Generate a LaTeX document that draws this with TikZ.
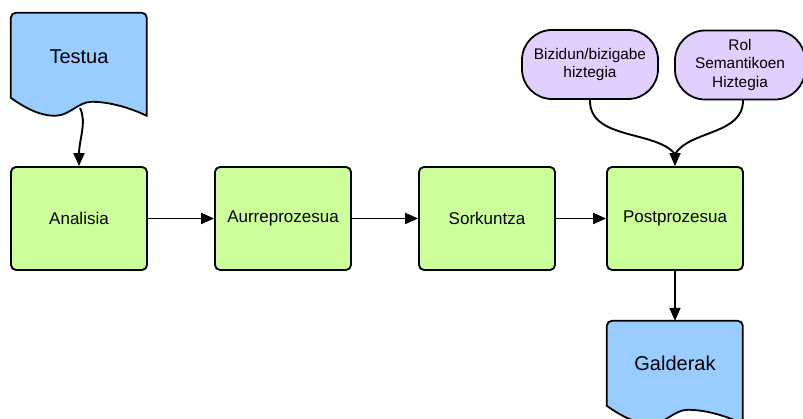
\documentclass[tikz,border=0pt]{standalone}
\usepackage{fontspec}
\setmainfont{Liberation Sans}
\usetikzlibrary{arrows.meta,calc}
\definecolor{docblue}{HTML}{99CCFF}
\definecolor{procgreen}{HTML}{CCFF99}
\definecolor{lexpurple}{HTML}{E1CFFF}
\tikzset{
  outline/.style={draw=black,line width=1.8pt},
  procbox/.style={outline,fill=procgreen,rounded corners=5pt,minimum width=136pt,minimum height=103pt,
    inner sep=0pt,font=\fontsize{17}{20}\selectfont},
  lexbox/.style={outline,fill=lexpurple,rounded corners=30pt,minimum height=69pt,inner sep=0pt,
    align=center,font=\fontsize{15.4}{18.3}\selectfont},
  doclabel/.style={inner sep=0pt,font=\fontsize{20}{24}\selectfont},
  docframe/.style={minimum width=136pt,minimum height=104pt,inner sep=0pt},
  wire/.style={line width=1.9pt},
  flow/.style={wire,-{Triangle[length=13pt,width=11pt]}},
}
% document shape: flat top with rounded corners, wavy bottom edge
\newcommand{\docoutline}[2]{%
  \begin{scope}[shift={(#1.north west)}]
    \draw[outline,fill=#2]
      (0,85) -- (0,5) [rounded corners=5pt] -- (0,0) -- (136,0) [sharp corners] -- (136,103)
      .. controls (119,95) and (99,89) .. (81,89)
      .. controls (67,89) and (59,103) .. (44,103)
      .. controls (29,103) and (14,95) .. (0,85) -- cycle;
  \end{scope}}
\begin{document}
\begin{tikzpicture}[x=1pt,y=-1pt]
  \useasboundingbox (0,0) rectangle (803,419);
  \clip (0,0) rectangle (803,419);

  % source document
  \node[docframe] (testua) at (79,65) {};
  \docoutline{testua}{docblue}
  \node[doclabel] (testuatxt) at (79,57) {Testua};
  \coordinate (testuaout) at (80,108);

  % processing chain
  \node[procbox] (analisia) at (79,218.5) {Analisia};
  \node[procbox] (aurre) at (283,218.5) {Aurreprozesua};
  \node[procbox] (sorkuntza) at (487,218.5) {Sorkuntza};
  \node[procbox] (post) at (675,218.5) {Postprozesua};

  % lexicons
  \node[lexbox,minimum width=136pt] (bizidun) at (590,64.5) {Bizidun/bizigabe\\hiztegia};
  \node[lexbox,minimum width=130pt] (rol) at (740,65) {Rol\\Semantikoen\\Hiztegia};

  % output document
  \node[docframe] (galderak) at (675,373) {};
  \docoutline{galderak}{docblue}
  \node[doclabel] (galderaktxt) at (675,363) {Galderak};

  % connectors
  \coordinate (analisiain) at (79,154);
  \draw[flow] (testuaout) .. controls (87,122) and (79,140) .. (analisiain) -- (analisia.north);
  \draw[flow] (analisia) -- (aurre);
  \draw[flow] (aurre) -- (sorkuntza);
  \draw[flow] (sorkuntza) -- (post);
  \coordinate (postin) at (675,154);
  \draw[wire] (bizidun.south) .. controls (589,140) and (655,130) .. (postin);
  \draw[wire] (743,99.5) .. controls (744,135) and (690,130) .. (postin);
  \draw[flow] (postin) -- (post.north);
  \draw[flow] (post) -- (galderak.north);
\end{tikzpicture}
\end{document}
